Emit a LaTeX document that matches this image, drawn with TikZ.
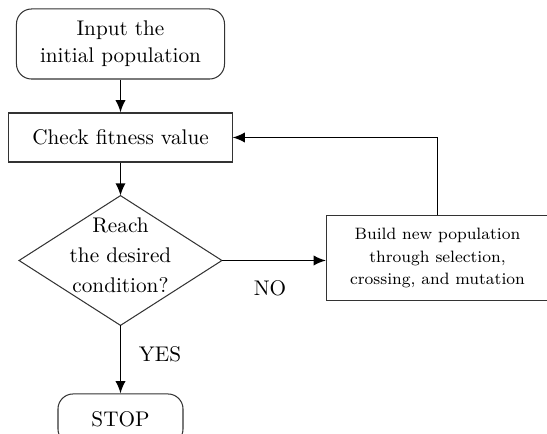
\documentclass[tikz,border=0pt]{standalone}
\usetikzlibrary{arrows.meta}
\begin{document}
\begin{tikzpicture}[x=0.4855pt,y=-0.4855pt,
  box/.style={draw=black!80, line width=0.5pt, inner sep=0pt, align=center, font=\fontsize{10.3}{13.2}\selectfont},
  roundbox/.style={box, rounded corners=7.3pt},
  conn/.style={line width=0.8pt, -{Latex[length=6pt,width=5pt]}},
  lbl/.style={inner sep=0pt, font=\fontsize{10.3}{12}\selectfont}]
\useasboundingbox (0,0) rectangle (547,434);
\clip (0,0) rectangle (547,434);
\node[roundbox, minimum width=101pt, minimum height=34pt] (start) at (120.5,44) {Input the\\initial population};
\node[box, minimum width=108.3pt, minimum height=23.8pt] (check) at (120.5,137.5) {Check fitness value};
\node[inner sep=0pt, minimum width=98.1pt, minimum height=62.6pt] (dec) at (120.5,260.5) {};
\draw[black!80, line width=0.5pt] (dec.north) -- (dec.east) -- (dec.south) -- (dec.west) -- cycle;
\node[lbl, align=center, font=\fontsize{10.3}{14.6}\selectfont] (dectext) at (120.5,255) {Reach\\the desired\\condition?};
\node[roundbox, minimum width=60.7pt, minimum height=24.3pt] (stop) at (120.5,419) {STOP};
\node[box, minimum width=107.8pt, minimum height=40.8pt, font=\fontsize{8}{10.7}\selectfont] (build) at (437.5,258) {Build new population\\through selection,\\crossing, and mutation};
\node[lbl] (yes) at (160,354) {YES};
\node[lbl] (no) at (270,288) {NO};
\draw[conn] (start.south) -- (check.north);
\draw[conn] (check.south) -- (dec.north);
\draw[conn] (dec.south) -- (stop.north);
\draw[conn] (dec.east) -- (dec.east -| build.west);
\draw[conn] (build.north) |- (check.east);
\end{tikzpicture}
\end{document}
